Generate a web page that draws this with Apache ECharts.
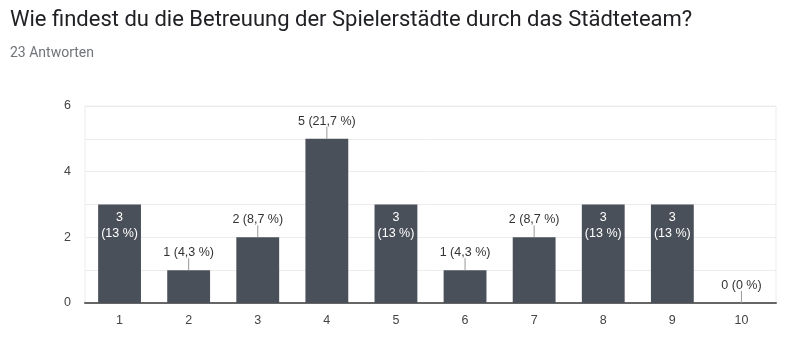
<!DOCTYPE html>
<html><head><meta charset="utf-8">
<script src="https://cdn.jsdelivr.net/npm/echarts@6/dist/echarts.min.js"></script>
<style>
html,body{margin:0;padding:0;background:#fff;}
#title{position:absolute;left:10px;top:5px;line-height:28px;font-family:Roboto,"Liberation Sans",sans-serif;font-size:22px;color:#202124;white-space:nowrap;}
#sub{position:absolute;left:10px;top:42px;line-height:20px;font-family:Roboto,"Liberation Sans",sans-serif;font-size:14px;color:#70757a;}
#c{position:absolute;left:0;top:0;width:800px;height:356px;}
</style></head><body>
<div id="c"></div>
<div id="title">Wie findest du die Betreuung der Spielerstädte durch das Städteteam?</div>
<div id="sub">23 Antworten</div>
<script>
const categories = ['1','2','3','4','5','6','7','8','9','10'];
const counts = [3, 1, 2, 5, 3, 1, 2, 3, 3, 0];
const percents = ['13 %','4,3 %','8,7 %','21,7 %','13 %','4,3 %','8,7 %','13 %','13 %','0 %'];
const labelInside = [true, false, false, false, true, false, false, true, true, false];
const yTicks = [0, 2, 4, 6];

const FONT = '"Liberation Sans", Arial, sans-serif';
const barData = counts.map((v, i) => ({
  value: v,
  label: labelInside[i] ? {show: true, formatter: v + '\n(' + percents[i] + ')'} : {show: false}
}));
const outsideData = counts.map((v, i) => [i, v]).filter(d => !labelInside[d[0]]);

const chart = echarts.init(document.getElementById('c'));
chart.setOption({
  animation: false,
  textStyle: {fontFamily: FONT},
  grid: {left: 85, right: 24, top: 106, bottom: 53, show: true, borderColor: '#ececec', borderWidth: 1},
  xAxis: {
    type: 'category', data: categories,
    axisTick: {show: false},
    axisLine: {lineStyle: {color: '#666', width: 2}},
    axisLabel: {color: '#444', fontSize: 12.5, margin: 11, fontFamily: FONT}
  },
  yAxis: {
    type: 'value', min: 0, max: 6, interval: 1,
    axisLine: {show: false}, axisTick: {show: false},
    splitLine: {lineStyle: {color: '#ececec'}},
    axisLabel: {color: '#444', fontSize: 12.5, margin: 14, fontFamily: FONT,
      formatter: v => yTicks.indexOf(v) >= 0 ? String(v) : ''}
  },
  series: [{
    type: 'bar', data: barData, barWidth: '62%',
    itemStyle: {color: '#4a5059'},
    label: {position: 'insideTop', distance: 5, color: '#fff', fontSize: 12.5, lineHeight: 16, fontFamily: FONT},
    z: 2
  }, {
    type: 'custom', data: outsideData, z: 3,
    renderItem: function (params, api) {
      const p = api.coord([api.value(0), api.value(1)]);
      const i = api.value(0);
      return {type: 'group', children: [
        {type: 'line', shape: {x1: p[0], y1: p[1], x2: p[0], y2: p[1] - 12},
         style: {stroke: '#999', lineWidth: 1}},
        {type: 'text', x: p[0], y: p[1] - 11,
         style: {text: counts[i] + ' (' + percents[i] + ')', fill: '#333', fontSize: 12.5,
                 fontFamily: FONT, align: 'center', verticalAlign: 'bottom'}}
      ]};
    }
  }]
});
</script>
</body></html>
